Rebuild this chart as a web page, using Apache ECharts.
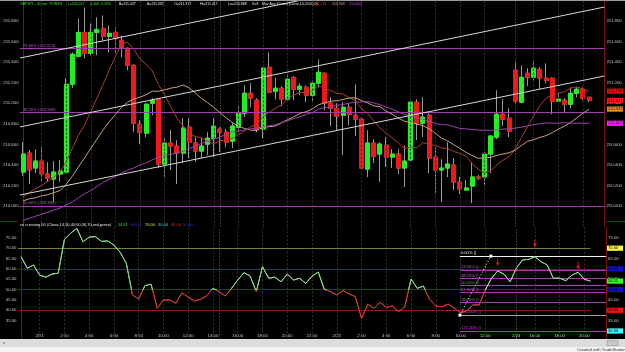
<!DOCTYPE html>
<html>
<head>
<meta charset="utf-8">
<script src="https://cdn.jsdelivr.net/npm/echarts@6/dist/echarts.min.js"></script>
<style>
  html, body { margin: 0; padding: 0; background: #000; }
  #chart { width: 625px; height: 352px; }
</style>
</head>
<body>
<div id="chart"></div>
<script>
// ---- data ----
const tickLabels = {3:'2/21',7:'2:00',11:'4:00',15:'6:00',19:'8:00',23:'10:00',27:'12:00',31:'14:00',
  35:'16:00',39:'18:00',43:'20:00',47:'22:00',51:'2/22',55:'2:00',59:'4:00',63:'6:00',67:'8:00',
  71:'10:00',75:'12:00',80:'2/24',83:'16:00',87:'18:00',91:'20:00'};
const sessionStarts = [32, 80];

const opens = [210.330,210.515,210.369,210.437,210.311,210.262,210.311,210.330,211.184,211.456,
  211.689,211.485,211.689,211.728,211.650,211.689,211.612,211.534,211.369,210.796,
  210.709,211.000,211.039,210.408,210.612,210.583,210.515,210.767,210.612,210.534,
  210.602,210.660,210.748,210.718,210.631,210.767,210.903,211.097,211.029,210.748,
  211.350,211.117,211.146,211.039,211.252,211.136,211.155,211.078,211.194,211.291,
  211.000,210.951,210.883,210.961,210.883,210.845,210.359,210.612,210.505,210.592,
  210.476,210.505,210.369,210.447,211.010,210.806,210.883,210.476,210.350,210.369,
  210.398,210.233,210.155,210.194,210.282,210.282,210.505,210.670,210.893,210.854,
  211.320,211.010,211.291,211.252,211.330,211.243,211.243,211.019,211.029,210.990,
  211.097,211.136,211.058];
const closes = [210.505,210.350,210.437,210.311,210.272,210.330,210.340,211.184,211.476,211.689,
  211.485,211.689,211.718,211.650,211.680,211.631,211.544,211.369,210.806,210.718,
  210.990,211.029,210.408,210.612,210.583,210.515,210.757,210.621,210.534,210.583,
  210.660,210.777,210.718,210.621,210.777,210.903,211.097,211.049,210.748,211.340,
  211.107,211.146,211.039,211.233,211.136,211.165,211.078,211.194,211.301,211.000,
  210.951,210.874,210.961,210.893,210.845,210.369,210.612,210.485,210.602,210.476,
  210.505,210.369,210.437,211.010,210.806,210.864,210.466,210.350,210.369,210.408,
  210.233,210.165,210.175,210.282,210.272,210.505,210.680,210.893,210.845,210.728,
  211.019,211.252,211.252,211.340,211.243,211.223,211.019,211.039,210.990,211.097,
  211.136,211.049,211.027];
const highs = [210.621,210.544,210.553,210.573,210.427,210.437,210.447,211.243,211.495,211.825,
  211.932,211.777,211.835,211.854,211.757,211.738,211.660,211.544,211.379,210.835,
  211.000,211.049,211.049,210.660,210.738,210.641,210.854,210.854,210.670,210.660,
  210.718,210.854,210.767,210.748,210.806,210.981,211.175,211.194,211.049,211.350,
  211.495,211.252,211.165,211.272,211.262,211.194,211.175,211.223,211.427,211.301,
  211.058,211.000,211.010,211.000,211.184,210.864,210.738,210.650,210.621,210.670,
  210.553,210.553,210.592,211.029,211.039,211.058,210.903,210.573,210.456,210.621,
  210.466,210.282,210.252,210.427,210.301,210.524,210.689,211.126,211.039,210.951,
  211.398,211.369,211.340,211.417,211.350,211.388,211.252,211.107,211.049,211.155,
  211.155,211.155,211.058];
const lows = [210.291,210.214,210.320,210.233,210.233,210.039,210.233,210.320,211.146,211.447,
  211.437,211.466,211.466,211.612,211.495,211.495,211.447,211.320,210.718,210.602,
  210.670,210.883,210.369,210.282,210.350,210.214,210.417,210.466,210.427,210.466,
  210.495,210.476,210.524,210.573,210.563,210.718,210.864,210.961,210.718,210.660,
  211.097,211.039,210.971,211.029,211.029,211.078,211.010,211.010,211.155,210.932,
  210.777,210.738,210.495,210.786,210.680,210.350,210.282,210.417,210.233,210.379,
  210.369,210.311,210.184,210.427,210.641,210.670,210.320,210.117,210.039,210.282,
  210.155,210.117,210.155,210.029,210.252,210.204,210.320,210.650,210.777,210.670,
  211.000,211.000,211.165,211.223,211.136,211.194,210.893,211.010,210.903,210.951,
  211.058,211.029,211.010];

const ma10 = [210.09,210.13,210.17,210.20,210.24,210.28,210.33,210.43,210.56,210.689,
  210.787,210.921,211.049,211.183,211.324,211.454,211.575,211.593,211.526,211.429,
  211.380,211.314,211.183,211.079,210.969,210.857,210.779,210.704,210.677,210.663,
  210.630,210.605,210.636,210.637,210.656,210.695,210.729,210.772,210.793,210.869,
  210.914,210.951,210.983,211.044,211.080,211.106,211.104,211.119,211.174,211.140,
  211.124,211.097,211.089,211.055,211.026,210.947,210.900,210.829,210.759,210.707,
  210.662,210.612,210.559,210.571,210.567,210.617,210.602,210.589,210.565,210.558,
  210.531,210.511,210.485,210.412,210.358,210.323,210.344,210.398,210.446,210.478,
  210.556,210.665,210.773,210.879,210.976,211.048,211.081,211.096,211.111,211.147,
  211.159,211.139,211.118];
const ma20 = [210.05,210.07,210.08,210.10,210.11,210.13,210.15,210.21,210.29,210.38,
  210.47,210.56,210.65,210.74,210.82,210.89,210.96,211.01,211.04,211.059,
  211.083,211.117,211.116,211.131,211.147,211.156,211.177,211.149,211.101,211.046,
  211.005,210.959,210.909,210.858,210.813,210.776,210.754,210.738,210.735,210.766,
  210.772,210.778,210.809,210.840,210.868,210.901,210.917,210.945,210.984,211.004,
  211.019,211.024,211.036,211.050,211.053,211.026,211.002,210.974,210.967,210.923,
  210.893,210.854,210.824,210.813,210.797,210.782,210.751,210.709,210.662,210.633,
  210.597,210.561,210.522,210.491,210.463,210.470,210.473,210.493,210.506,210.518,
  210.544,210.588,210.629,210.645,210.667,210.685,210.713,210.747,210.778,210.813,
  210.858,210.902,210.943];
const ma50 = [209.86,209.88,209.90,209.92,209.94,209.96,209.98,210.01,210.04,210.08,
  210.12,210.15,210.19,210.23,210.26,210.29,210.32,210.35,210.37,210.40,
  210.42,210.45,210.47,210.49,210.50,210.52,210.53,210.56,210.58,210.61,
  210.63,210.65,210.67,210.70,210.72,210.73,210.74,210.75,210.76,210.77,
  210.78,210.79,210.81,210.83,210.85,210.87,210.89,210.91,210.94,210.958,
  210.967,210.978,210.988,211.000,211.011,211.012,211.017,211.003,210.986,210.962,
  210.942,210.916,210.890,210.877,210.860,210.844,210.823,210.802,210.794,210.788,
  210.772,210.755,210.750,210.744,210.738,210.737,210.736,210.741,210.748,210.750,
  210.758,210.767,210.778,210.792,210.801,210.808,210.806,210.806,210.811,210.806,
  210.807,210.805,210.805];

const rsi = [65.9,60.3,61.9,57.0,56.0,57.5,57.9,74.3,77.2,79.6,
  73.1,75.3,75.6,73.3,73.5,71.5,68.0,62.7,47.4,45.5,
  51.9,52.6,41.0,45.0,45.0,43.4,48.5,46.3,44.5,45.3,
  47.1,50.6,49.0,46.9,50.6,54.6,58.2,56.6,49.0,61.1,
  55.5,56.0,53.8,57.5,54.6,55.5,53.0,56.5,58.5,50.1,
  49.0,47.4,49.5,47.9,46.6,36.1,42.9,41.0,43.9,41.4,
  42.1,39.3,41.7,55.1,50.6,51.7,45.3,42.1,41.7,43.0,
  41.0,38.8,39.8,42.6,42.6,49.8,55.5,59.0,57.5,53.8,
  60.3,64.3,64.6,65.9,63.5,61.9,55.5,55.5,54.3,57.0,
  58.4,55.0,54.11];

// Fibonacci levels on price
const priceFibValues = [211.525, 210.906, 209.996];
const priceFibLabels = ['23.60% (211.525)', '38.20% (210.906)', '50.00% (209.996)'];
// channel lines: value at the left and at the right plot edge
const channelStart = [211.44, 210.769, 210.107];
const channelEnd = [212.61, 211.936, 211.265];

// RSI levels and Fibonacci drawn on RSI
const rsiFullLevels = [60, 50];
const rsiShortLevels = [70, 40];
const rsiFibValues = [66.2, 59.5, 55.3, 51.95, 48.6, 43.8, 37.7, 29.95];
const rsiFibLabels = ['0.00% ()', '23.60% ()', '38.20% ()', '50.00% ()', '61.80% ()', '78.60% ()', '100.00% ()', '127.20% ()'];
const rsiFibAnchors = [[70.9, 37.7], [75.9, 66.2]];
const arrowIdx = [77, 83, 90];
const arrowVal = [63.3, 72.3, 61.6];

// right-hand value boxes: value, text, fill, text colour
const priceBoxes = [[211.118, '211.118', '#e01010', '#300000'], [211.027, '211.027', '#ff1a1a', '#300000'],
  [210.943, '210.943', '#f08a20', '#202020'], [210.805, '210.805', '#ff20ff', '#300030']];
const rsiBoxes = [[70, '70.00', '#ffff30', '#000'], [60, '60.00', '#1010d8', '#000'], [54.11, '54.11', '#30ff30', '#000'],
  [50, '50.00', '#1010d8', '#000'], [40, '40.00', '#ff1010', '#000'], [30, '30.00', '#40ffff', '#000']];

// ---- chart ----
const N = 95;
const cats = Array.from({length: N}, (_, i) => String(i));
const FONT = 'Liberation Sans';
const AXIS_RED = '#7a1414';
const FIB_PURPLE = '#a23cb0';

const wickData = opens.map((o, i) => [o, closes[i], lows[i], highs[i]]);
const bodyData = opens.map((o, i) => [o, closes[i], Math.min(o, closes[i]), Math.max(o, closes[i])]);
const gridTicks = Object.keys(tickLabels).map(Number).filter(i => sessionStarts.indexOf(i) < 0);

function vLines(list, color, type) {
  return list.map(i => ({xAxis: i, lineStyle: {color: color, type: type, width: 1}}));
}

const yLab = {fontSize: 4.3, color: '#c8c8c8', fontFamily: FONT};

const option = {
  backgroundColor: '#000',
  animation: false,
  grid: [
    {left: 18, right: 19, top: 0.44, height: 226.12},
    {left: 18, right: 19, top: 227.5, height: 113.85}
  ],
  xAxis: [
    {type: 'category', gridIndex: 0, data: cats, boundaryGap: true, axisLine: {show: false},
      axisTick: {show: false}, axisLabel: {show: false}, splitLine: {show: false}},
    {type: 'category', gridIndex: 1, data: cats, boundaryGap: true, axisLine: {show: false},
      axisTick: {show: false}, splitLine: {show: false},
      axisLabel: {inside: true, margin: 4, fontSize: 4.3, color: '#c8c8c8', fontFamily: FONT,
        interval: (idx) => tickLabels[idx] !== undefined,
        formatter: (v, idx) => tickLabels[idx] || ''}},
    {type: 'value', gridIndex: 0, min: -0.5, max: N - 0.5, show: false},
    {type: 'value', gridIndex: 1, min: -0.5, max: N - 0.5, show: false}
  ],
  yAxis: [
    {type: 'value', gridIndex: 0, position: 'left', min: 209.8, max: 212, interval: 0.2, scale: true,
      axisLine: {show: true, lineStyle: {color: AXIS_RED}}, axisTick: {show: false}, splitLine: {show: false},
      axisLabel: Object.assign({margin: 1.5, showMinLabel: false, showMaxLabel: false, formatter: v => v.toFixed(3)}, yLab)},
    {type: 'value', gridIndex: 0, position: 'right', min: 209.8, max: 212, interval: 0.2, scale: true,
      axisLine: {show: true, lineStyle: {color: AXIS_RED}}, axisTick: {show: false}, splitLine: {show: false},
      axisLabel: Object.assign({margin: 2, showMinLabel: false, showMaxLabel: false, formatter: v => v.toFixed(3)}, yLab)},
    {type: 'value', gridIndex: 1, position: 'left', min: 25, max: 80, interval: 5,
      axisLine: {show: true, lineStyle: {color: AXIS_RED}}, axisTick: {show: false}, splitLine: {show: false},
      axisLabel: Object.assign({margin: 1.5, showMinLabel: false, showMaxLabel: false,
        formatter: v => (v <= 30 ? '' : v.toFixed(2))}, yLab)},
    {type: 'value', gridIndex: 1, position: 'right', min: 25, max: 80, interval: 5,
      axisLine: {show: true, lineStyle: {color: AXIS_RED}}, axisTick: {show: false}, splitLine: {show: false},
      axisLabel: Object.assign({margin: 2, showMinLabel: false, showMaxLabel: false, formatter: v => v.toFixed(2)}, yLab)}
  ],
  visualMap: {
    type: 'piecewise', show: false, seriesIndex: 9, dimension: 1,
    pieces: [{gt: 0, lte: 50, color: '#d23a2c'}, {gt: 50, lte: 100, color: '#8ad88a'}]
  },
  series: [
    // 0: grid & fib lines of price panel
    {type: 'line', xAxisIndex: 2, yAxisIndex: 0, data: [], z: 1, silent: true,
      markLine: {symbol: 'none', silent: true, animation: false,
        label: {show: false},
        data: vLines(gridTicks, '#333', [2, 2]).concat(vLines(sessionStarts, '#6a6a6a', [1, 2])).concat(
          priceFibValues.map((v, k) => ({yAxis: v, lineStyle: {color: FIB_PURPLE, type: 'solid', width: 1},
            label: {show: true, position: 'insideStartTop', distance: [3, 1], formatter: priceFibLabels[k],
              color: '#c050d0', fontSize: 4.1, fontFamily: FONT}})))}},
    // 1: wicks
    {type: 'candlestick', xAxisIndex: 0, yAxisIndex: 0, data: wickData, barWidth: 4.5, z: 3,
      itemStyle: {color: '#9a9a9a', color0: '#9a9a9a', borderColor: '#9a9a9a', borderColor0: '#9a9a9a', borderWidth: 1}},
    // 2: bodies
    {type: 'candlestick', xAxisIndex: 0, yAxisIndex: 0, data: bodyData, barWidth: 4.5, z: 4,
      itemStyle: {color: '#22f022', color0: '#f01818', borderColor: '#22f022', borderColor0: '#f01818', borderWidth: 1}},
    // 3-5: moving averages
    {type: 'line', xAxisIndex: 0, yAxisIndex: 0, data: ma10, symbol: 'none', z: 5,
      lineStyle: {color: '#a8402c', width: 1}},
    {type: 'line', xAxisIndex: 0, yAxisIndex: 0, data: ma20, symbol: 'none', z: 5,
      lineStyle: {color: '#c9a27c', width: 1}},
    {type: 'line', xAxisIndex: 0, yAxisIndex: 0, data: ma50, symbol: 'none', z: 5,
      lineStyle: {color: '#9c44b0', width: 1}},
    // 6-8: channel lines
    ...channelStart.map((s, k) => ({type: 'line', xAxisIndex: 2, yAxisIndex: 0, symbol: 'none', z: 6,
      data: [[-0.5, s], [N - 0.5, channelEnd[k]]], lineStyle: {color: '#d8d8d8', width: 1}})),
    // 9: RSI line
    {type: 'line', xAxisIndex: 1, yAxisIndex: 2, data: rsi, symbol: 'none', z: 6, lineStyle: {width: 1}},
    // 10: RSI grid, levels, fib
    {type: 'line', xAxisIndex: 3, yAxisIndex: 2, data: [], z: 2, silent: true,
      markLine: {symbol: 'none', silent: true, animation: false, label: {show: false},
        data: vLines(gridTicks, '#333', [2, 2]).concat(vLines(sessionStarts, '#6a6a6a', [1, 2]))
          .concat(rsiFullLevels.map(v => ({yAxis: v, lineStyle: {color: '#2222c8', type: 'solid', width: 1}})))
          .concat(rsiShortLevels.map(v => [{coord: [-0.5, v], lineStyle: {color: v === 70 ? '#7c7c44' : '#8a1c1c', type: 'solid', width: 1}},
            {coord: [92, v]}]))
          .concat(rsiFibValues.map((v, k) => [{coord: [rsiFibAnchors[0][0], v],
            lineStyle: {color: k === 0 ? '#f0f0f0' : (k === 6 ? '#9a9a9a' : FIB_PURPLE), type: 'solid', width: 1},
            label: {show: true, position: 'insideStartTop', distance: [1, 1], formatter: rsiFibLabels[k],
              color: k === 0 ? '#e0e0e0' : '#c050d0', fontSize: 4.1, fontFamily: FONT}},
            {coord: [N - 0.5, v]}]))}},
    // 11: fib anchor line
    {type: 'line', xAxisIndex: 3, yAxisIndex: 2, data: rsiFibAnchors, z: 8, symbol: 'rect', symbolSize: 3,
      itemStyle: {color: '#fff'}, lineStyle: {color: '#fff', width: 1, type: [1, 2]}},
    // 12: signal arrows
    {type: 'scatter', xAxisIndex: 1, yAxisIndex: 2, z: 8,
      data: arrowIdx.map((i, k) => [i, arrowVal[k]]),
      symbol: 'path://M3,0 H5 V6 H8 L4,11 L0,6 H3 Z', symbolSize: [4, 8],
      itemStyle: {color: '#ff2020'}}
  ]
};

const chart = echarts.init(document.getElementById('chart'));
chart.setOption(option);

// texts and frame
function txt(x, y, text, fill, size) {
  return {type: 'text', x: x, y: y, z: 50,
    style: {text: text, fill: fill, fontSize: size || 4.3, fontFamily: FONT,
      textVerticalAlign: 'middle', verticalAlign: 'middle', textAlign: 'left', align: 'left'}};
}
const T = 3.5;  // header font size
const H = 4.0;  // RSI header font size
const graphics = [
  {type: 'line', z: 40, shape: {x1: 0, y1: 0.5, x2: 625, y2: 0.5}, style: {stroke: '#9a9a9a', lineWidth: 1}},
  {type: 'line', z: 40, shape: {x1: 0, y1: 221.5, x2: 18, y2: 221.5}, style: {stroke: AXIS_RED, lineWidth: 1}},
  {type: 'line', z: 40, shape: {x1: 606, y1: 221.5, x2: 625, y2: 221.5}, style: {stroke: AXIS_RED, lineWidth: 1}},
  {type: 'rect', z: 60, shape: {x: 0, y: 339, width: 625, height: 8}, style: {fill: '#dcdcdc'}},
  {type: 'rect', z: 60, shape: {x: 0, y: 347, width: 625, height: 5}, style: {fill: '#f4f4f4'}},
  {type: 'rect', z: 61, shape: {x: 607, y: 340.5, width: 11, height: 5}, style: {fill: '#c8c8c8', stroke: '#888', lineWidth: 0.5}},
  Object.assign(txt(3, 343, 'e', '#555', 4.3), {z: 62}),
  Object.assign(txt(577, 349.5, 'Created with TradeStation', '#333', 4.2), {z: 62}),
  // header of price panel
  txt(20, 4, 'GBPJPY - 30 min', '#30e030', T),
  txt(50, 4, 'FOREX', '#30e030', T),
  txt(68, 4, 'L=211.027', '#30e030', T),
  txt(90, 4, '0.308', '#30e030', T),
  txt(101, 4, '0.15%', '#30e030', T),
  txt(119, 4, 'B=211.027', '#e8e8e8', T),
  txt(147, 4, 'A=211.092', '#e8e8e8', T),
  txt(174, 4, 'O=211.317', '#e8e8e8', T),
  txt(200, 4, 'Hi=211.417', '#e8e8e8', T),
  txt(228, 4, 'Lo=210.888', '#e8e8e8', T),
  txt(252, 4, 'V=8', '#e8e8e8', T),
  txt(262, 4, 'Mov Avg 3 Lines (Close,10,20,50,0)', '#e8e8e8', T),
  txt(314, 4, '211.118', '#e03020', T),
  txt(332, 4, '210.943', '#e0b090', T),
  txt(349, 4, '210.805', '#d040e0', T),
  // header of RSI panel
  txt(20, 225, 'rsi crossing 50 (Close,14,50,40,60,30,70,red,green)', '#e8e8e8', H),
  txt(118, 225, '54.11', '#40e040', H),
  txt(131, 225, '60.00', '#3030e0', H),
  txt(145, 225, '70.00', '#e0e040', H),
  txt(158, 225, '30.00', '#40e0e0', H),
  txt(171, 225, '40.00', '#e03030', H),
  txt(183, 225, '50.00', '#3030e0', H)
];

// coloured value boxes on the right axis, placed through the axes
function box(yAxisIndex, b) {
  const y = chart.convertToPixel({yAxisIndex: yAxisIndex}, b[0]);
  return {type: 'group', children: [
    {type: 'rect', z: 45, shape: {x: 607, y: y - 2.6, width: 16, height: 5.2}, style: {fill: b[2]}},
    Object.assign(txt(608, y, b[1], b[3], 4.1), {z: 46})
  ]};
}
try {
  priceBoxes.forEach(b => graphics.push(box(1, b)));
  rsiBoxes.forEach(b => graphics.push(box(3, b)));
} catch (e) { console.log(e); }

chart.setOption({graphic: graphics});
</script>
</body>
</html>
